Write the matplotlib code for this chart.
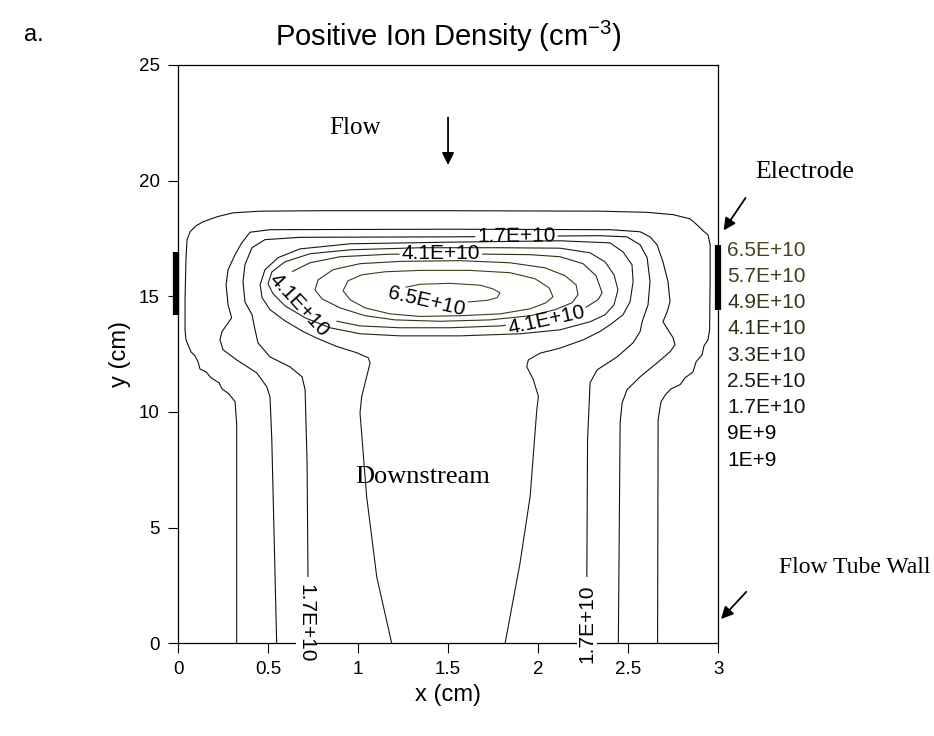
import numpy as np
import matplotlib
matplotlib.use("Agg")
import matplotlib.pyplot as plt
from matplotlib.contour import ContourSet
from matplotlib.ticker import FormatStrFormatter
import matplotlib.transforms as mtransforms

plt.rcParams['font.family'] = ['Liberation Sans', 'DejaVu Sans']

# contour levels (cm^-3) and their printed names
levels = [1e9, 9e9, 1.7e10, 2.5e10, 3.3e10, 4.1e10, 4.9e10, 5.7e10, 6.5e10]
level_names = ['1E+9', '9E+9', '1.7E+10', '2.5E+10', '3.3E+10',
               '4.1E+10', '4.9E+10', '5.7E+10', '6.5E+10']

# traced contour lines, x and y in cm
c1_x = [0.326, 0.326, 0.317, 0.283, 0.244, 0.228, 0.183, 0.156, 0.122, 0.111, 0.094, 0.072,
        0.056, 0.044, 0.039, 0.039, 0.044, 0.05, 0.067, 0.1, 0.139, 0.217, 0.306, 0.456,
        0.789, 1.511, 2.344, 2.606, 2.75, 2.844, 2.883, 2.917, 2.944, 2.956, 2.956, 2.953,
        2.944, 2.922, 2.911, 2.878, 2.861, 2.817, 2.789, 2.739, 2.711, 2.683, 2.667, 2.664]
c1_y = [0.0, 9.44, 10.44, 10.78, 11.0, 11.26, 11.48, 11.73, 11.86, 12.17, 12.43, 12.6,
        12.9, 13.12, 13.55, 14.85, 16.58, 17.44, 17.79, 18.05, 18.22, 18.44, 18.61, 18.68,
        18.70, 18.70, 18.68, 18.63, 18.53, 18.35, 18.09, 17.83, 17.66, 17.23, 15.71, 13.55,
        13.12, 12.86, 12.47, 12.17, 11.73, 11.48, 11.18, 11.0, 10.78, 10.44, 9.66, 0.0]

c2_x = [0.548, 0.521, 0.511, 0.493, 0.437, 0.326, 0.25, 0.233, 0.244, 0.298, 0.278, 0.267,
        0.278, 0.317, 0.354, 0.4, 0.511, 1.511, 2.4, 2.567, 2.622, 2.661, 2.694, 2.722,
        2.733, 2.717, 2.694, 2.722, 2.75, 2.761, 2.733, 2.661, 2.567, 2.494, 2.467, 2.456, 2.446]
c2_y = [0.0, 8.79, 10.65, 11.09, 11.69, 12.25, 12.69, 13.12, 13.47, 14.07, 14.63, 15.50,
        16.15, 16.80, 17.31, 17.77, 17.88, 17.90, 17.88, 17.79, 17.57, 17.23, 16.49, 15.63,
        14.76, 14.33, 13.90, 13.55, 13.21, 12.90, 12.60, 12.12, 11.52, 10.96, 10.39, 9.53, 0.0]

c3_x = [0.722, 0.717, 0.706, 0.689, 0.622, 0.511, 0.444, 0.428, 0.411, 0.372, 0.361, 0.372,
        0.411, 0.483, 0.678, 1.511, 2.344, 2.494, 2.567, 2.606, 2.622, 2.611, 2.578, 2.567,
        2.528, 2.439, 2.328, 2.289, 2.275, 2.271]
c3_y = [2.87, 7.80, 10.96, 11.52, 11.95, 12.38, 12.99, 13.55, 14.20, 14.76, 15.63, 16.37,
        17.10, 17.45, 17.55, 17.57, 17.62, 17.57, 17.23, 16.67, 15.63, 14.63, 13.90, 13.47,
        12.99, 12.38, 11.82, 11.26, 8.79, 2.87]

c4_x = [1.187, 1.104, 1.048, 1.011, 1.02, 1.067, 1.057, 0.993, 0.882, 0.771, 0.694, 0.594,
        0.511, 0.467, 0.456, 0.483, 0.556, 0.678, 0.956, 1.511, 2.122, 2.4, 2.472, 2.522,
        2.528, 2.511, 2.472, 2.4, 2.344, 2.252, 2.122, 2.011, 1.946, 1.937, 1.974, 2.002,
        1.993, 1.956, 1.9, 1.817]
c4_y = [0.0, 2.87, 6.33, 9.96, 10.65, 12.12, 12.34, 12.56, 12.83, 13.19, 13.48, 13.94,
        14.42, 14.94, 15.50, 16.15, 16.67, 17.05, 17.27, 17.34, 17.40, 17.31, 16.92, 16.36,
        15.63, 14.76, 14.20, 13.77, 13.48, 13.12, 12.76, 12.54, 12.25, 11.96, 11.39, 10.67,
        10.09, 6.34, 3.47, 0.0]

c5_x = [2.444, 2.422, 2.372, 2.289, 2.122, 1.9, 1.567, 1.233, 1.011, 0.844, 0.706, 0.594,
        0.528, 0.5, 0.522, 0.594, 0.733, 0.956, 1.344, 1.789, 2.122, 2.289, 2.372, 2.422, 2.444]
c5_y = [15.28, 14.63, 14.20, 13.90, 13.55, 13.38, 13.29, 13.29, 13.38, 13.64, 14.07, 14.59,
        15.11, 15.54, 16.06, 16.49, 16.84, 17.01, 17.10, 17.10, 17.08, 16.88, 16.49, 15.93, 15.28]

c6_x = [2.356, 2.333, 2.261, 2.15, 2.011, 1.789, 1.511, 1.233, 1.011, 0.872, 0.761, 0.672,
        0.611, 0.589, 0.622, 0.733, 0.9, 1.178, 1.511, 1.956, 2.122, 2.25, 2.322, 2.356]
c6_y = [15.15, 14.85, 14.50, 14.16, 13.90, 13.72, 13.64, 13.64, 13.72, 13.94, 14.24, 14.63,
        15.07, 15.54, 16.02, 16.45, 16.71, 16.82, 16.84, 16.80, 16.71, 16.41, 15.89, 15.15]

c7_x = [2.222, 2.189, 2.094, 1.956, 1.733, 1.456, 1.206, 1.039, 0.9, 0.8, 0.761, 0.778,
        0.861, 1.011, 1.233, 1.567, 1.844, 2.039, 2.15, 2.211, 2.222]
c7_y = [15.07, 14.72, 14.42, 14.16, 13.98, 13.92, 13.98, 14.16, 14.50, 14.89, 15.28, 15.71,
        16.15, 16.41, 16.51, 16.54, 16.45, 16.23, 15.89, 15.50, 15.07]

c8_x = [2.083, 2.044, 1.956, 1.789, 1.567, 1.344, 1.178, 1.039, 0.956, 0.917, 0.944, 1.022,
        1.15, 1.344, 1.622, 1.844, 1.983, 2.061, 2.083]
c8_y = [14.98, 14.72, 14.46, 14.24, 14.16, 14.13, 14.24, 14.50, 14.85, 15.24, 15.67, 15.93,
        16.06, 16.12, 16.12, 16.02, 15.76, 15.37, 14.98]

c9_x = [1.789, 1.772, 1.722, 1.622, 1.456, 1.317, 1.25, 1.222, 1.25, 1.344, 1.511, 1.678,
        1.75, 1.789]
c9_y = [15.15, 14.94, 14.83, 14.76, 14.74, 14.78, 14.89, 15.11, 15.37, 15.52, 15.56, 15.48,
        15.32, 15.15]

contour_x = [c1_x, c2_x, c3_x, c4_x, c5_x, c6_x, c7_x, c8_x, c9_x]
contour_y = [c1_y, c2_y, c3_y, c4_y, c5_y, c6_y, c7_y, c8_y, c9_y]

# inline label spots (cm), keyed by level
label_spots = {
    1.7e10: [(1.88, 17.58)],
    4.1e10: [(1.46, 16.84), (0.667, 14.6), (2.05, 13.88)],
    6.5e10: [(1.38, 14.75)],
}
# labels at the foot of the 1.7E+10 line
foot_x = [0.712, 2.273]
foot_y = [0.85, 0.85]
foot_rot = [-90, 90]

# electrodes on both walls (y extent, cm)
electrode_left = [14.2, 16.9]
electrode_right = [14.4, 17.2]

line_colors = ['#111111', '#111111', '#111111', '#1a1a10', '#26250f',
               '#2f2d14', '#383618', '#403d1a', '#48441e']
legend_colors = ['#48441e', '#403d1a', '#383618', '#2f2d14', '#26250f',
                 '#1a1a10', '#111111', '#000000', '#000000']

fig = plt.figure(figsize=(9.34, 7.36), dpi=100)
ax = fig.add_axes([0.1906, 0.126, 0.5782, 0.7857])

ax.set_xticks(np.arange(0, 3.01, 0.5))
ax.set_yticks(np.arange(0, 26, 5))
ax.xaxis.set_major_formatter(FormatStrFormatter('%g'))
ax.yaxis.set_major_formatter(FormatStrFormatter('%g'))
ax.tick_params(direction='out', length=7, width=0.8, labelsize=13.5, pad=6)
for s in ax.spines.values():
    s.set_linewidth(0.9)

fmt = dict(zip(levels, level_names))

# one contour set per level so each can be labelled on its own
sets = {}
for lev, cx, cy, col in zip(levels, contour_x, contour_y, line_colors):
    seg = np.column_stack([cx, cy])
    sets[lev] = ContourSet(ax, [lev], [[seg]], colors=[col], linewidths=0.8)
ax.set_xlim(0, 3)
ax.set_ylim(0, 25)
fig.canvas.draw()
for lev, spots in label_spots.items():
    sets[lev].clabel([lev], inline=True, manual=spots, fmt=fmt, fontsize=15,
                     colors='k', inline_spacing=2)

for x, y, r in zip(foot_x, foot_y, foot_rot):
    ax.text(x, y, fmt[1.7e10], rotation=r, ha='center', va='center', fontsize=15,
            clip_on=False, zorder=4,
            bbox=dict(facecolor='white', edgecolor='none', pad=0.5))

# electrode bars
left_shift = mtransforms.offset_copy(ax.transData, fig=fig, x=-2.5, y=0, units='dots')
ax.plot([0, 0], electrode_left, color='k', lw=4.5, solid_capstyle='butt',
        clip_on=False, transform=left_shift)
ax.plot([3, 3], electrode_right, color='k', lw=4.5, solid_capstyle='butt', clip_on=False)

# level list beside the plot
for i, (name, col) in enumerate(zip(level_names[::-1], legend_colors)):
    ax.text(3.05, 17.0 - i * 1.135, name, color=col, fontsize=15, ha='left', va='center',
            clip_on=False)

serif = ['Liberation Serif', 'DejaVu Serif']
ax.text(0.983, 22.28, 'Flow', family=serif, fontsize=18, ha='center', va='center')
ax.annotate('', xy=(1.5, 20.56), xytext=(1.5, 22.85),
            arrowprops=dict(arrowstyle='-|>', color='k', lw=1.3, mutation_scale=18))
ax.text(1.361, 7.19, 'Downstream', family=serif, fontsize=19, ha='center', va='center')
ax.text(3.483, 20.38, 'Electrode', family=serif, fontsize=18.5, ha='center', va='center',
        clip_on=False)
ax.annotate('', xy=(3.022, 17.75), xytext=(3.161, 19.35), annotation_clip=False,
            arrowprops=dict(arrowstyle='-|>', color='k', lw=1.3, mutation_scale=18))
ax.text(3.761, 3.26, 'Flow Tube Wall', family=serif, fontsize=17, ha='center',
        va='center', clip_on=False)
ax.annotate('', xy=(3.006, 0.96), xytext=(3.167, 2.31), annotation_clip=False,
            arrowprops=dict(arrowstyle='-|>', color='k', lw=1.3, mutation_scale=18))

ax.set_xlabel('x (cm)', fontsize=17, labelpad=4)
ax.set_ylabel('y (cm)', fontsize=17, labelpad=6)
ax.set_title('Positive Ion Density (cm$^{\\mathregular{-3}}$)', fontsize=21, pad=14)
fig.text(0.026, 0.952, 'a.', fontsize=17, ha='left', va='center')

fig.savefig('out.png', dpi=100)
